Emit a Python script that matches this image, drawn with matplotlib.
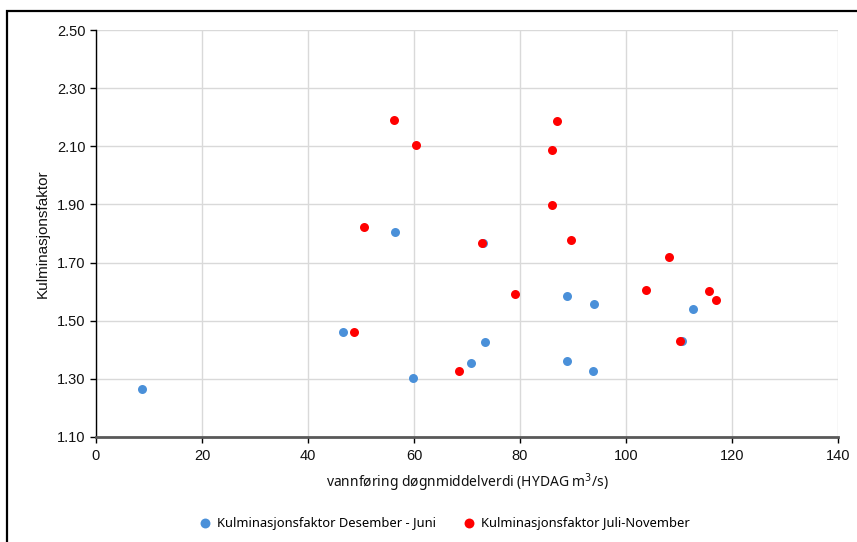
import matplotlib.pyplot as plt
from matplotlib.patches import Rectangle

# Kulminasjonsfaktor Desember - Juni
vinter_q = [8.7, 46.6, 56.4, 59.8, 70.8, 73.4, 73.0, 88.9, 88.9, 94.0, 93.8, 112.6, 110.5]
vinter_k = [1.265, 1.461, 1.805, 1.302, 1.354, 1.427, 1.767, 1.585, 1.361, 1.558, 1.327, 1.541, 1.429]

# Kulminasjonsfaktor Juli-November
sommer_q = [56.3, 60.4, 50.5, 48.6, 72.9, 68.4, 86.9, 86.0, 86.1, 89.6, 79.1,
            103.8, 108.2, 115.7, 117.0, 110.1]
sommer_k = [2.189, 2.103, 1.823, 1.460, 1.768, 1.327, 2.187, 2.087, 1.899, 1.778, 1.591,
            1.606, 1.718, 1.602, 1.570, 1.429]

x_ticks = [0, 20, 40, 60, 80, 100, 120, 140]
y_ticks = [1.10, 1.30, 1.50, 1.70, 1.90, 2.10, 2.30, 2.50]

blue = '#4a90d9'
red = '#ff0000'

fig = plt.figure(figsize=(8.57, 5.42), dpi=100)
ax = fig.add_axes([96 / 857, 1 - 437 / 542, (838 - 96) / 857, (437 - 30) / 542])

# black frame around the chart area (cut off on the right and bottom)
fig.patches.append(Rectangle((7.5 / 857, -0.1), 1.0, 1 - 10.5 / 542 + 0.1,
                             transform=fig.transFigure, fill=False,
                             edgecolor='black', linewidth=1.6))

ax.scatter(vinter_q, vinter_k, s=42, color=blue, zorder=3, linewidths=0,
           label='Kulminasjonsfaktor Desember - Juni')
ax.scatter(sommer_q, sommer_k, s=42, color=red, zorder=4, linewidths=0,
           label='Kulminasjonsfaktor Juli-November')

ax.set_xlim(0, 140)
ax.set_ylim(1.10, 2.50)
ax.set_xticks(x_ticks)
ax.set_yticks(y_ticks)
ax.set_yticklabels([f'{v:.2f}' for v in y_ticks])
ax.grid(True, color='#d9d9d9', linewidth=1)
ax.set_axisbelow(True)

for s in ['top', 'right']:
    ax.spines[s].set_visible(False)
ax.spines['left'].set_color('black')
ax.spines['left'].set_linewidth(1)
ax.spines['bottom'].set_color('#595959')
ax.spines['bottom'].set_linewidth(2)
ax.tick_params(axis='both', direction='out', length=4, width=1, color='black',
               labelsize=10.5, labelcolor='#111111')
ax.tick_params(axis='x', pad=5)
for lbl in ax.get_xticklabels() + ax.get_yticklabels():
    lbl.set_fontfamily('Liberation Sans')

ax.set_xlabel('vannføring døgnmiddelverdi (HYDAG m$^3$/s)', fontsize=10,
              family='Noto Sans', color='#111111', labelpad=6)
ax.set_ylabel('Kulminasjonsfaktor', fontsize=11,
              family=['Liberation Sans Narrow', 'Liberation Sans'],
              color='#111111', labelpad=5)

leg = fig.legend(loc='center', bbox_to_anchor=(441 / 857, 1 - 523 / 542), ncol=2,
                 frameon=False, handletextpad=-0.1, columnspacing=1.6,
                 markerscale=1.1, prop={'family': 'Noto Sans', 'size': 9.3})

fig.savefig('out.png', dpi=100)
